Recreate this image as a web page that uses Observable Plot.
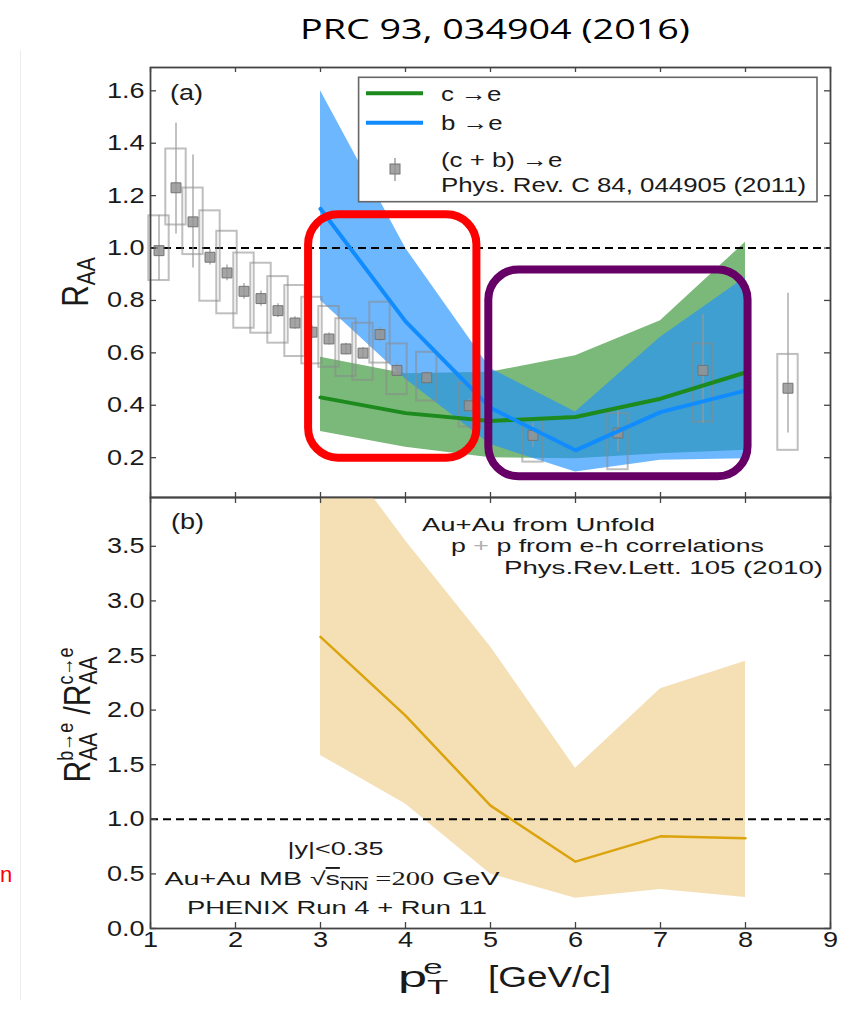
<!DOCTYPE html>
<html><head><meta charset="utf-8">
<script src="https://cdn.jsdelivr.net/npm/d3@7"></script>
<script src="https://cdn.jsdelivr.net/npm/@observablehq/plot@0.6"></script>
<style>
body{margin:0;background:#fff;width:858px;height:1011px;overflow:hidden;position:relative;font-family:"Liberation Sans",Arial,sans-serif;}
#title{position:absolute;left:300px;top:14px;font-family:"Open Sans",sans-serif;font-size:28px;line-height:28px;white-space:nowrap;display:inline-block;transform-origin:left center;color:#000;}
#vline{position:absolute;left:20px;top:50px;width:1px;height:950px;background:#ececec;}
#redn{position:absolute;left:0px;top:864px;font-size:22px;color:#f00;line-height:22px;}
#top{position:absolute;left:0;top:0;}
#bot{position:absolute;left:0;top:497px;}
</style></head><body>
<div id="vline"></div>
<div id="redn">n</div>
<div id="top"></div>
<div id="bot"></div>
<div id="title">PRC 93, 034904 (2016)</div>
<script>
// ---------- data ----------
const xTicks = [1,2,3,4,5,6,7,8,9];
const raaTicks = [0.2,0.4,0.6,0.8,1.0,1.2,1.4,1.6];
const ratioTicks = [0,0.5,1.0,1.5,2.0,2.5,3.0,3.5];

// (c+b)->e  Phys. Rev. C 84, 044905 (2011)
const ptData   = [1.1,1.3,1.5,1.7,1.9,2.1,2.3,2.5,2.7,2.9,3.1,3.3,3.5,3.7,3.9,4.25,4.75,5.5,6.5,7.5,8.5];
const raaData  = [0.99,1.23,1.10,0.965,0.905,0.835,0.807,0.761,0.714,0.679,0.653,0.615,0.599,0.670,0.533,0.505,0.398,0.285,0.294,0.533,0.465];
const sysLow   = [0.876,1.088,0.975,0.797,0.749,0.694,0.675,0.637,0.586,0.558,0.545,0.510,0.495,0.561,0.441,0.416,0.317,0.183,0.154,0.336,0.228];
const sysHigh  = [1.123,1.378,1.229,1.142,1.064,0.981,0.942,0.891,0.857,0.812,0.777,0.730,0.713,0.793,0.634,0.602,0.482,0.349,0.368,0.634,0.594];
const statLow  = [0.875,1.054,0.924,0.935,0.875,0.805,0.778,0.735,0.69,0.655,0.63,0.593,0.578,0.641,0.505,0.482,0.372,0.240,0.221,0.330,0.294];
const statHigh = [1.125,1.477,1.355,0.995,0.935,0.865,0.836,0.787,0.738,0.703,0.676,0.637,0.62,0.698,0.561,0.528,0.424,0.330,0.380,0.746,0.827];

// models c->e and b->e
const ptModel = [3,4,5,6,7,8];
const cMid  = [0.43,0.37,0.34,0.355,0.425,0.525];
const cLow  = [0.30,0.24,0.20,0.196,0.215,0.228];
const cHigh = [0.583,0.52,0.526,0.589,0.723,1.022];
const bMid  = [1.15,0.72,0.39,0.228,0.374,0.456];
const bLow  = [0.80,0.50,0.25,0.145,0.19,0.196];
const bHigh = [1.60,1.00,0.54,0.374,0.66,0.888];

// ratio b/c
const ratioMid  = [2.67,1.95,1.125,0.612,0.844,0.826];
const ratioLow  = [1.585,1.14,0.498,0.278,0.358,0.284];
const ratioHigh = [4.6,3.55,2.58,1.467,2.195,2.448];

// highlight boxes (data coordinates of panel a)
const redBox    = [{x1:2.86, x2:4.84, y1:0.198, y2:1.127}];
const purpleBox = [{x1:4.98, x2:8.03, y1:0.127, y2:0.916}];

// ---------- tables ----------
const pointRows = ptData.map((x,i)=>({x, raa:raaData[i], sysLo:sysLow[i], sysHi:sysHigh[i], stLo:statLow[i], stHi:statHigh[i]}));
const modelRows = ptModel.map((x,i)=>({x, cMid:cMid[i], cLo:cLow[i], cHi:cHigh[i], bMid:bMid[i], bLo:bLow[i], bHi:bHigh[i]}));
const ratioRows = ptModel.map((x,i)=>({x, mid:ratioMid[i], lo:ratioLow[i], hi:ratioHigh[i]}));

const W = 858, ML = 150, MR = 28, PW = W-ML-MR, PH = 430;
const FRAME = "#444";
const font = {fontFamily:"'Liberation Sans', Arial, sans-serif", fontSize:"22px", color:"#1a1a1a", background:"transparent", overflow:"visible"};

function frameMarks(yt){
  return [
    Plot.ruleY(yt, {insetRight: PW-6, stroke: FRAME, strokeWidth: 1.3}),
    Plot.ruleY(yt, {insetLeft: PW-6, stroke: FRAME, strokeWidth: 1.3}),
    Plot.ruleX(xTicks, {insetTop: PH-5, stroke: FRAME, strokeWidth: 1.3}),
    Plot.ruleX(xTicks, {insetBottom: PH-5, stroke: FRAME, strokeWidth: 1.3}),
    Plot.frame({stroke: FRAME, strokeWidth: 1.8})
  ];
}

const topPlot = Plot.plot({
  width: W, height: 497, marginLeft: ML, marginRight: MR, marginTop: 67, marginBottom: 0,
  x: {domain:[1,9], axis:null},
  y: {domain:[0.048,1.689]},
  style: font,
  marks: [
    Plot.areaY(modelRows, {x:"x", y1:"cLo", y2:"cHi", fill:"#228b22", fillOpacity:0.6}),
    Plot.areaY(modelRows, {x:"x", y1:"bLo", y2:"bHi", fill:"#1e90ff", fillOpacity:0.65}),
    Plot.ruleY([1], {stroke:"#000", strokeWidth:1.9, strokeDasharray:"8,5"}),
    Plot.rect(pointRows, {x1:d=>d.x-0.12, x2:d=>d.x+0.12, y1:"sysLo", y2:"sysHi", fill:"none", stroke:"#8a8a8a", strokeOpacity:0.55, strokeWidth:2}),
    Plot.ruleX(pointRows, {x:"x", y1:"stLo", y2:"stHi", stroke:"#999", strokeOpacity:0.6, strokeWidth:2}),
    Plot.dot(pointRows, {x:"x", y:"raa", symbol:"square", r:5.6, fill:"#949494", fillOpacity:0.85, stroke:"#747474", strokeWidth:1}),
    Plot.lineY(modelRows, {x:"x", y:"cMid", stroke:"#1c8a1c", strokeWidth:4}),
    Plot.lineY(modelRows, {x:"x", y:"bMid", stroke:"#118cff", strokeWidth:4}),
    ...frameMarks(raaTicks),
    Plot.axisY(raaTicks, {tickSize:0, tickPadding:6, tickFormat:d3.format(".1f"), label:null}),
    Plot.rect(redBox, {x1:"x1", x2:"x2", y1:"y1", y2:"y2", rx:30, fill:"none", stroke:"#ff0000", strokeWidth:8}),
    Plot.rect(purpleBox, {x1:"x1", x2:"x2", y1:"y1", y2:"y2", rx:30, fill:"none", stroke:"#660066", strokeWidth:8})
  ]
});

const botPlot = Plot.plot({
  width: W, height: 514, marginLeft: ML, marginRight: MR, marginTop: 0, marginBottom: 83,
  x: {domain:[1,9]},
  y: {domain:[0,3.947]},
  style: font,
  marks: [
    Plot.areaY(ratioRows, {x:"x", y1:"lo", y2:"hi", fill:"#f5e0b6", clip:true}),
    Plot.ruleY([1], {stroke:"#000", strokeWidth:1.9, strokeDasharray:"8,5"}),
    Plot.lineY(ratioRows, {x:"x", y:"mid", stroke:"#dba30c", strokeWidth:2.5}),
    ...frameMarks(ratioTicks),
    Plot.axisY(ratioTicks, {tickSize:0, tickPadding:6, tickFormat:d3.format(".1f"), label:null}),
    Plot.axisX(xTicks, {tickSize:0, tickPadding:3, tickFormat:d3.format("d"), label:null})
  ]
});

document.getElementById("top").appendChild(topPlot);
document.getElementById("bot").appendChild(botPlot);

// ---------- annotations ----------
const ff = "'Liberation Sans', Arial, sans-serif";
function txt(svg, x, y, size, anchor, targetW){
  const t = d3.select(svg).append("text").attr("x",x).attr("y",y).attr("font-size",size)
    .attr("text-anchor",anchor||"start").attr("font-family",ff).attr("fill","#1a1a1a");
  if (targetW) t.attr("data-w", targetW);
  return t;
}
// panel labels
txt(topPlot,170,100,22).text("(a)");
txt(botPlot,171,32,22).text("(b)");

// legend
const tp = d3.select(topPlot);
const lg = tp.append("g");
lg.append("rect").attr("x",358.6).attr("y",77.3).attr("width",458.4).attr("height",124.4)
  .attr("fill","#fff").attr("stroke","#666").attr("stroke-width",1.6);
lg.append("line").attr("x1",366).attr("x2",423).attr("y1",93.3).attr("y2",93.3).attr("stroke","#1c8a1c").attr("stroke-width",4);
lg.append("line").attr("x1",366).attr("x2",423).attr("y1",122.7).attr("y2",122.7).attr("stroke","#118cff").attr("stroke-width",4);
lg.append("line").attr("x1",395).attr("x2",395).attr("y1",158).attr("y2",181).attr("stroke","#999").attr("stroke-opacity",0.7).attr("stroke-width",2);
lg.append("rect").attr("x",390).attr("y",164).attr("width",10).attr("height",10).attr("fill","#949494").attr("fill-opacity",0.85).attr("stroke","#747474");
txt(topPlot,441,100.5,21).text("c \u2192e");
txt(topPlot,441,130,21).text("b \u2192e");
txt(topPlot,441,166.5,21).text("(c + b) \u2192e");
txt(topPlot,441,191.5,21).text("Phys. Rev. C 84, 044905 (2011)");

// panel b texts
txt(botPlot,422,34,19,"start",233).text("Au+Au from Unfold");
const pp = txt(botPlot,451,55,19,"start",313);
pp.append("tspan").text("p ");
pp.append("tspan").attr("fill","#b0b0b0").text("+");
pp.append("tspan").text(" p from e-h correlations");
txt(botPlot,504,77,19,"start",319).text("Phys.Rev.Lett. 105 (2010)");
txt(botPlot,335.5,358,19,"middle",96).text("|y|<0.35");
const mb = txt(botPlot,332,388,19,"middle",335);
mb.append("tspan").text("Au+Au MB \u221A");
mb.append("tspan").attr("style","text-decoration:overline").text("s");
mb.append("tspan").attr("font-size",13).attr("dy",5).attr("style","text-decoration:overline").text("NN");
mb.append("tspan").attr("dy",-5).attr("font-family","'Liberation Serif', serif").text(" =200");
mb.append("tspan").text(" GeV");
txt(botPlot,337,416.5,19,"middle",300).text("PHENIX Run 4 + Run 11");

// x label
const xl = txt(botPlot,398,490,30);
xl.append("tspan").text("p");
xl.append("tspan").attr("font-size",20).attr("dy",7).text("T");
xl.append("tspan").attr("font-size",20).attr("dx",-12.2).attr("dy",-20).text("e");
txt(botPlot,488,490,30).text("[GeV/c]");

// y labels (rotated, glyphs widened like the source)
function ylab(svg, x, y){
  return d3.select(svg).append("g").attr("class","nostretch")
    .attr("transform",`translate(${x},${y}) scale(1.22,1) rotate(-90)`)
    .append("text").attr("text-anchor","middle").attr("font-family",ff).attr("font-size",30).attr("fill","#1a1a1a");
}
const y1 = ylab(topPlot, 88, 282);
y1.append("tspan").text("R");
y1.append("tspan").attr("font-size",21).attr("dy",6).text("AA");
const y2 = ylab(botPlot, 90, 218);
y2.append("tspan").text("R");
y2.append("tspan").attr("font-size",21).attr("dy",6).text("AA");
y2.append("tspan").attr("font-size",18).attr("dx",-28).attr("dy",-20).text("b\u2192e");
y2.append("tspan").attr("dy",14).text(" /R");
y2.append("tspan").attr("font-size",21).attr("dy",6).text("AA");
y2.append("tspan").attr("font-size",18).attr("dx",-28).attr("dy",-20).text("c\u2192e");

// widen text horizontally like the (horizontally stretched) source figure
function stretch(svg,k){
  svg.querySelectorAll("text").forEach(t=>{
    if (t.closest(".nostretch")) return;
    const w = t.getComputedTextLength();
    if (w>0){
      const target = t.hasAttribute("data-w") ? +t.getAttribute("data-w") : w*k;
      t.setAttribute("textLength",target.toFixed(1)); t.setAttribute("lengthAdjust","spacingAndGlyphs");
    }
  });
}
stretch(topPlot,1.23);
stretch(botPlot,1.23);

// title
const title = document.getElementById("title");
const tw = title.getBoundingClientRect().width;
title.style.transform = `scaleX(${390/tw})`;
</script>
</body></html>
